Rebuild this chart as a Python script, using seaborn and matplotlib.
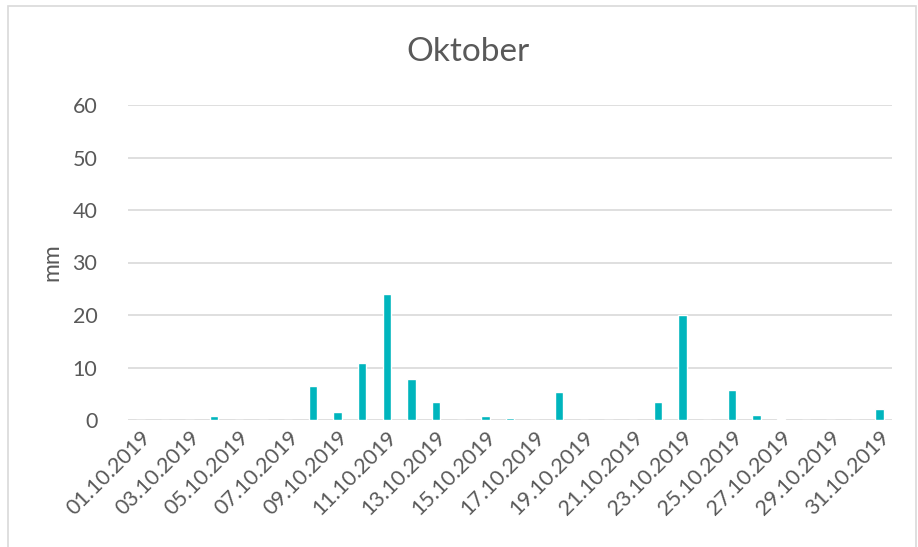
import matplotlib
matplotlib.use("Agg")
import matplotlib.pyplot as plt
import seaborn as sns
import pandas as pd
from matplotlib.patches import Rectangle

# Daily precipitation for October 2019 (mm)
dates = [f"{d:02d}.10.2019" for d in range(1, 32)]
rain_mm = [0, 0, 0, 0.8, 0, 0, 0, 6.5, 1.6, 10.9,
           24.0, 7.9, 3.4, 0, 0.7, 0.4, 0, 5.3, 0, 0,
           0, 3.5, 20.0, 0, 5.7, 1.0, 0.2, 0, 0, 0,
           2.1]
y_ticks = [0, 10, 20, 30, 40, 50, 60]

df = pd.DataFrame({"date": dates, "mm": rain_mm})

sns.set_theme(style="white")
plt.rcParams["font.family"] = ["Lato", "DejaVu Sans"]

text_color = "#595959"
grid_color = "#D9D9D9"
bar_color = "#00B5BD"

fig = plt.figure(figsize=(9.18, 5.47), dpi=100)
W, H = 918, 547
ax = fig.add_axes([128 / W, (H - 420) / H, (892 - 128) / W, (420 - 105) / H])

sns.barplot(data=df, x="date", y="mm", color=bar_color, width=0.34,
            saturation=1, ax=ax, zorder=3)

ax.set_ylim(0, 60)
ax.set_yticks(y_ticks)
ax.set_xlim(-0.5, len(dates) - 0.5)
for t in y_ticks:
    ax.axhline(t, color=grid_color, lw=1.2, zorder=1)

for s in ax.spines.values():
    s.set_visible(False)

ax.tick_params(axis="both", length=0, colors=text_color, labelsize=15.5)
ax.tick_params(axis="y", pad=22)
ax.tick_params(axis="x", pad=5)

ax.set_xticks(range(0, len(dates), 2))
ax.set_xticklabels(dates[::2], rotation=45, ha="right",
                   rotation_mode="anchor", color=text_color, fontsize=15.5)

ax.set_xlabel("")
ax.set_ylabel("mm", color=text_color, fontsize=16.5)
ax.yaxis.set_label_coords(-0.086, 0.5)

fig.text(468 / W, 1 - 52 / H, "Oktober", ha="center", va="center",
         color=text_color, fontsize=24)

# Chart area border
fig.patches.append(Rectangle((8 / W, -0.05), (916 - 8) / W, 1.05 - 6 / H,
                             transform=fig.transFigure, fill=False,
                             edgecolor=grid_color, lw=1.2))

fig.savefig("out.png", dpi=100)
